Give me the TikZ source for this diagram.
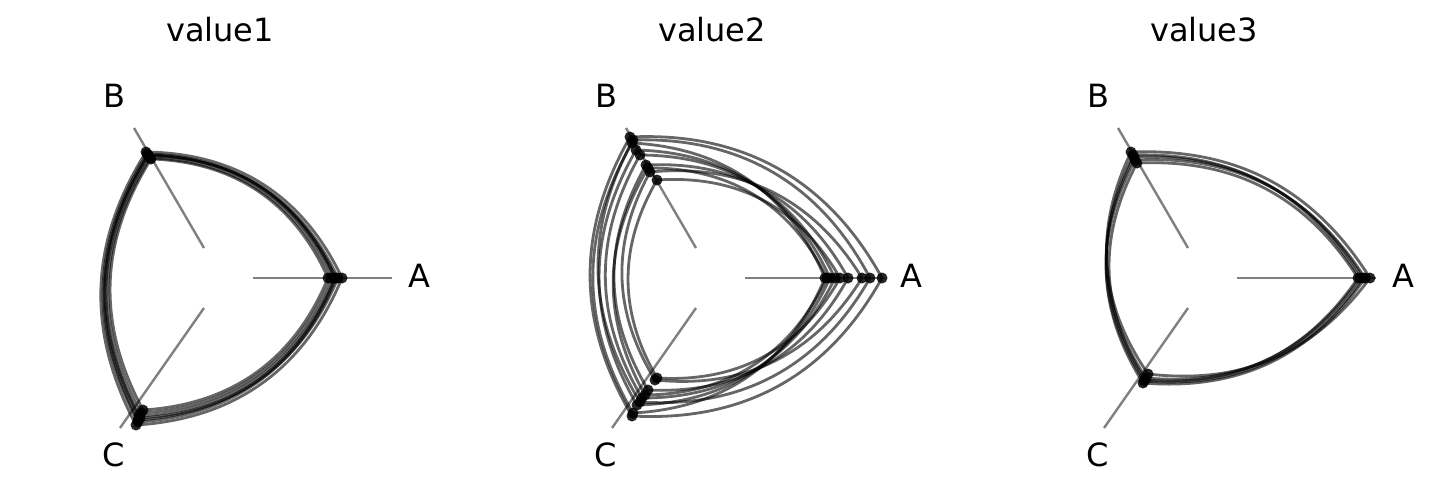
\documentclass[tikz,border=0pt]{standalone}
\usepackage{fontspec}
\setmainfont{DejaVu Sans}
\tikzset{every picture/.style={line width=0.75pt}}
\tikzset{
  axisline/.style={draw={rgb,255:red,128;green,128;blue,128},line width=2.4pt},
  ring/.style={draw=black,draw opacity=0.6,line width=2.8pt},
  dot/.style={circle,fill=black,fill opacity=0.85,inner sep=0pt,minimum size=11pt},
  lbl/.style={font=\fontsize{32}{38}\selectfont,inner sep=0pt}
}
\begin{document}
\begin{tikzpicture}[x=1pt,y=1pt,yscale=-1,xscale=1]
\useasboundingbox (0,0) rectangle (1430,498);

% panels: offsets 0, 492, 984
\foreach \off/\ttl in {0/value1,492/value2,984/value3}{
  \begin{scope}[shift={(\off,0)}]
    \node[lbl] (title\ttl) at (220,30) {\ttl};
    \node[lbl] (labA\ttl) at (419,276) {A};
    \node[lbl] (labB\ttl) at (114,96) {B};
    \node[lbl] (labC\ttl) at (114,455) {C};
    \draw[axisline] (253,278) -- (392,278);
    \draw[axisline] (204,248) -- (134,128);
    \draw[axisline] (204,308) -- (120,428);
  \end{scope}
}

% value1
\foreach \ax/\bx/\by/\cx/\cy in {335/148/155/138/420, 331/150/158/141/413, 342/146/152/136/425, 328/151/159/143/410, 338/149/156/140/418, 334/148/155/139/416, 336/147/154/138/422}{
  \coordinate (pA) at (\ax,278);
  \coordinate (pB) at (\bx,\by);
  \coordinate (pC) at (\cx,\cy);
  \draw[ring] (pA) to[bend left=32] (pB) to[bend left=30] (pC) to[bend left=32] (pA);
  \foreach \p in {pA,pB,pC}{\node[dot] at (\p) {};}
}

% value2
\foreach \ax/\bx/\by/\cx/\cy in {825/632/143/633/413, 830/636/150/637/405, 848/646/165/648/390, 862/650/172/655/380, 882/630/137/632/416, 840/657/180/657/378, 870/633/140/640/402, 827/648/168/645/395, 835/640/155/642/398}{
  \coordinate (pA) at (\ax,278);
  \coordinate (pB) at (\bx,\by);
  \coordinate (pC) at (\cx,\cy);
  \draw[ring] (pA) to[bend left=32] (pB) to[bend left=30] (pC) to[bend left=32] (pA);
  \foreach \p in {pA,pB,pC}{\node[dot] at (\p) {};}
}

% value3
\foreach \ax/\bx/\by/\cx/\cy in {1360/1133/155/1146/378, 1365/1135/160/1143/383, 1370/1131/152/1148/374, 1358/1137/163/1145/380, 1363/1134/157/1144/381}{
  \coordinate (pA) at (\ax,278);
  \coordinate (pB) at (\bx,\by);
  \coordinate (pC) at (\cx,\cy);
  \draw[ring] (pA) to[bend left=30] (pB) to[bend left=30] (pC) to[bend left=30] (pA);
  \foreach \p in {pA,pB,pC}{\node[dot] at (\p) {};}
}
\end{tikzpicture}
\end{document}
